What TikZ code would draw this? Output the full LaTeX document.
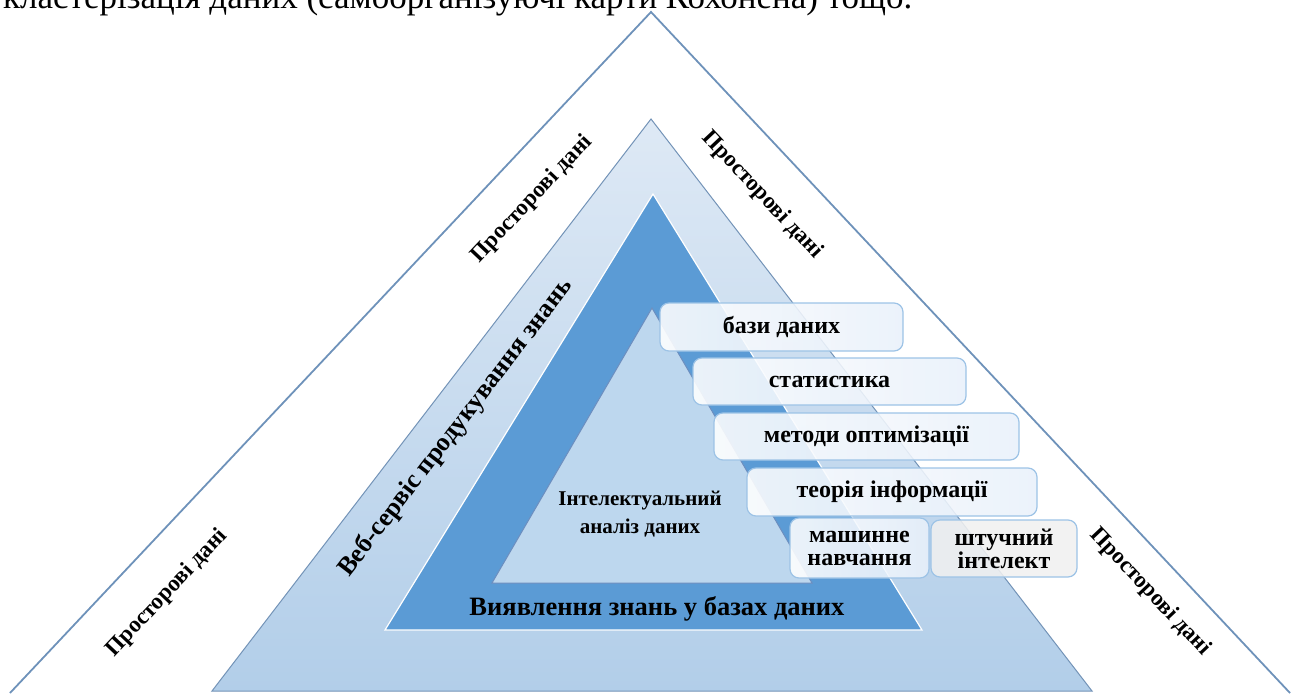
\documentclass[tikz,border=0pt]{standalone}
\usepackage{fontspec}
\setmainfont{Liberation Serif}
\definecolor{outerline}{HTML}{6E92BA}
\definecolor{midtop}{HTML}{DEE9F5}
\definecolor{midbot}{HTML}{B2CEE9}
\definecolor{midline}{HTML}{7393B7}
\definecolor{darkblue}{HTML}{5B9BD5}
\definecolor{innerfill}{HTML}{BDD7EE}
\definecolor{innerline}{HTML}{6C8EBF}
\definecolor{boxline}{HTML}{9DC3E6}
\definecolor{boxright}{HTML}{E8F0FA}
\definecolor{grayfill}{HTML}{F0F0F0}
\begin{document}
\begin{tikzpicture}[x=1pt,y=-1pt,
  lbl/.style={font=\fontsize{23}{25}\selectfont\bfseries, inner sep=0pt},
  box/.style={draw=boxline, line width=1.2pt, rounded corners=9pt, left color=white, right color=boxright, fill opacity=0.88, text opacity=1, font=\fontsize{24}{23}\selectfont\bfseries, inner sep=0pt, align=center},
  graybox/.style={box, left color=grayfill, right color=grayfill}]
\useasboundingbox (0,0) rectangle (1291,695);
\clip (0,0) rectangle (1291,695);
% cut top text
\node[anchor=base west, inner sep=0pt, font=\fontsize{35}{37}\selectfont] (toptext) at (3,9) {кластерізація даних (самоорганізуючі карти Кохонена) тощо.};
% outer triangle
\draw[outerline, line width=1.8pt] (10,693) -- (651,12) -- (1290,693);
% middle triangle
\shade[top color=midtop, bottom color=midbot] (212,691) -- (651,119) -- (1092,691) -- cycle;
\draw[midline, line width=1pt] (212,691) -- (651,119) -- (1092,691) -- cycle;
% dark triangle
\fill[darkblue] (385,630) -- (653,194) -- (922,630) -- cycle;
\draw[white, line width=1.2pt] (385,630) -- (653,194) -- (922,630) -- cycle;
% inner triangle
\filldraw[fill=innerfill, draw=innerline, line width=1pt] (492,583) -- (652,308) -- (812,583) -- cycle;
% labels
\node[lbl, rotate=46.7] (pl1) at (532,199) {Просторові дані};
\node[lbl, rotate=46.7] (pl2) at (167,593) {Просторові дані};
\node[lbl, rotate=-46.7] (pr1) at (762,195) {Просторові дані};
\node[lbl, rotate=-46.7] (pr2) at (1150,592) {Просторові дані};
\node[lbl, rotate=52.5, font=\fontsize{26}{28}\selectfont\bfseries] (web) at (456,428) {Веб-сервіс продукування знань};
\node[lbl, font=\fontsize{26.5}{28}\selectfont\bfseries] (kdd) at (657,609) {Виявлення знань у базах даних};
\node[lbl, font=\fontsize{21}{28}\selectfont\bfseries, align=center] (ida) at (640,514) {Інтелектуальний\\аналіз даних};
% boxes
\node[box, minimum width=243pt, minimum height=48pt] (b1) at (781.5,327) {бази даних};
\node[box, minimum width=273pt, minimum height=47pt] (b2) at (829.5,381.5) {статистика};
\node[box, minimum width=305pt, minimum height=47pt] (b3) at (866.5,436.5) {методи оптимізації};
\node[box, minimum width=290pt, minimum height=48pt] (b4) at (892,492) {теорія інформації};
\node[box, minimum width=139pt, minimum height=60pt] (b5) at (859.5,548) {машинне\\навчання};
\node[graybox, minimum width=146pt, minimum height=57pt] (b6) at (1004,548.5) {штучний\\інтелект};
\end{tikzpicture}
\end{document}
